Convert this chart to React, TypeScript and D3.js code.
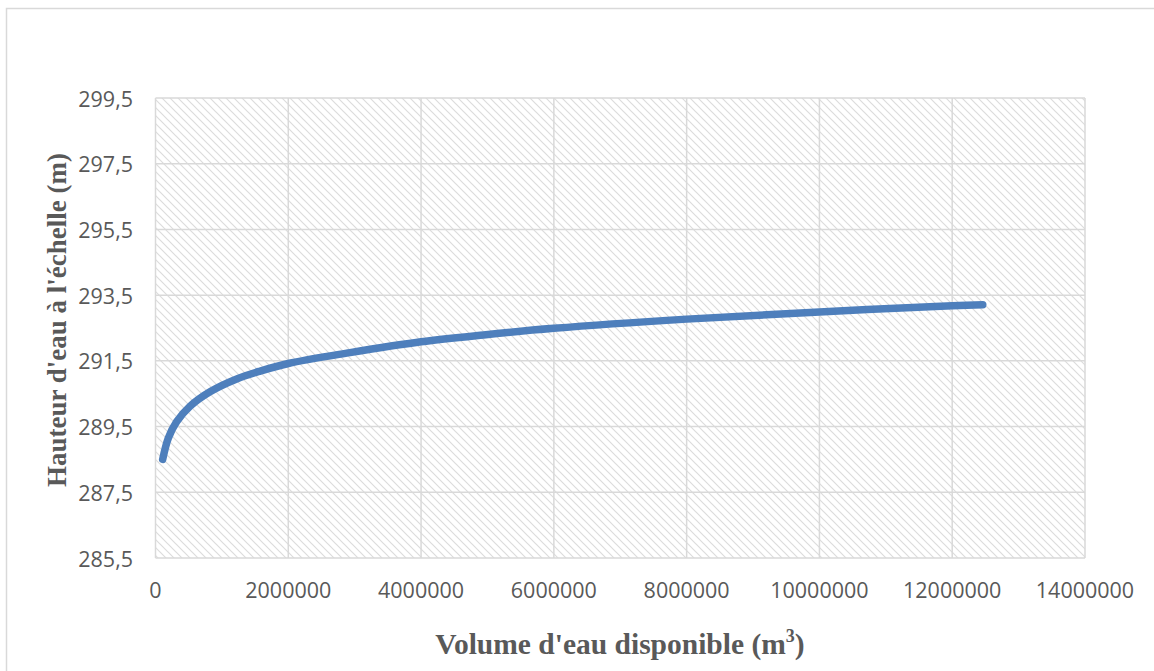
import React from "react";
import * as d3 from "d3";

const volumes = [108000, 193000, 319000, 520000, 821000, 1223000, 1577000, 2000000, 2930000, 4000000, 4940000, 6000000, 8000000, 10000000, 12000000, 12460000];
const heights = [288.5, 289.15, 289.65, 290.12, 290.56, 290.95, 291.19, 291.42, 291.75, 292.08, 292.29, 292.49, 292.77, 292.99, 293.18, 293.21];
const yTicks = [285.5, 287.5, 289.5, 291.5, 293.5, 295.5, 297.5, 299.5];
const xTicks = [0, 2000000, 4000000, 6000000, 8000000, 10000000, 12000000, 14000000];

const W = 1154, H = 671;
const left = 155.5, right = 1085, top = 98, bottom = 558;

export default function App() {
  const x = d3.scaleLinear().domain([0, 14000000]).range([left, right]);
  const y = d3.scaleLinear().domain([285.5, 299.5]).range([bottom, top]);
  const line = d3.line<number>()
    .x((_, i) => x(volumes[i]))
    .y((d) => y(d))
    .curve(d3.curveCatmullRom.alpha(0.5));
  const fmt = (v: number) => v.toFixed(1).replace(".", ",");
  return (
    <svg width={W} height={H} style={{ position: "absolute", left: 0, top: 0 }}>
      <defs>
        <pattern id="hatch" patternUnits="userSpaceOnUse" width={8} height={8}>
          <path d="M0,0 L8,8 M-2,6 L2,10 M6,-2 L10,2" stroke="#dcdcdc" strokeWidth={1.2} />
        </pattern>
      </defs>
      <rect x={0} y={0} width={W} height={H} fill="#fff" />
      <rect x={6.5} y={8.5} width={1200} height={700} fill="none" stroke="#d9d9d9" strokeWidth={1.5} />
      <rect x={left} y={top} width={right - left} height={bottom - top} fill="url(#hatch)" />
      {yTicks.map((t) => (
        <line key={"gy" + t} x1={left} x2={right} y1={y(t)} y2={y(t)} stroke="#d9d9d9" strokeWidth={1.5} />
      ))}
      {xTicks.map((t) => (
        <line key={"gx" + t} x1={x(t)} x2={x(t)} y1={top} y2={bottom} stroke="#d9d9d9" strokeWidth={1.5} />
      ))}
      {yTicks.map((t) => (
        <text key={"ty" + t} x={133} y={y(t)} textAnchor="end" dominantBaseline="central"
          fontFamily="Open Sans" fontSize={21.5} fill="#595959">{fmt(t)}</text>
      ))}
      {xTicks.map((t) => (
        <text key={"tx" + t} x={x(t)} y={589} textAnchor="middle" dominantBaseline="central"
          fontFamily="Open Sans" fontSize={21.5} fill="#595959">{String(t)}</text>
      ))}
      <path d={line(heights) || ""} fill="none" stroke="#4e7fbc" strokeWidth={7.5} strokeLinecap="round" strokeLinejoin="round" />
      <text x={620} y={654} textAnchor="middle" fontFamily="Liberation Serif" fontWeight="bold" fontSize={29.5} fill="#595959">
        Volume d'eau disponible (m<tspan fontSize={18} dy={-12}>3</tspan><tspan dy={12}>)</tspan>
      </text>
      <text transform={`translate(66,320) rotate(-90)`} textAnchor="middle" fontFamily="Liberation Serif" fontWeight="bold" fontSize={27} fill="#595959">
        Hauteur d'eau à l'échelle (m)
      </text>
    </svg>
  );
}
